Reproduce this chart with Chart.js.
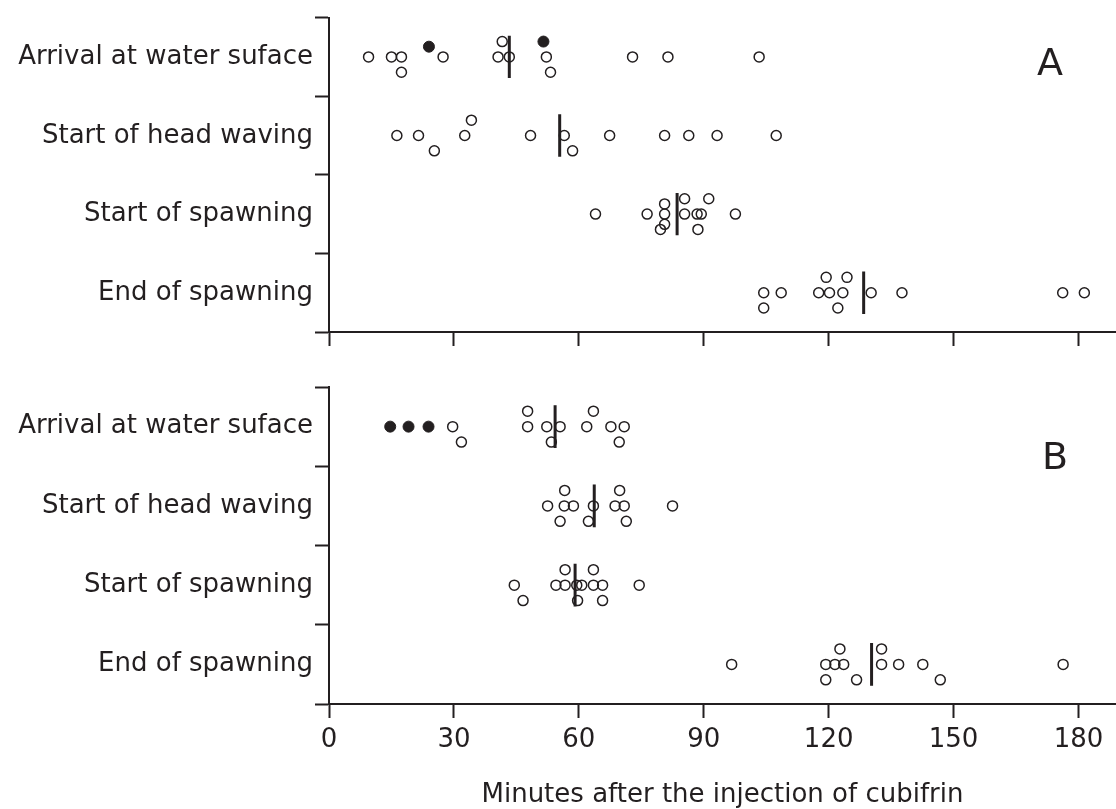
<!DOCTYPE html>
<html>
<head>
<meta charset="utf-8">
<script src="https://cdn.jsdelivr.net/npm/chart.js"></script>
<style>
    body { margin: 0; background: #fff; width: 1116px; height: 809px; position: relative; overflow: hidden; }
    .panel { position: absolute; left: 0; }
    .tag { position: absolute; font-family: "DejaVu Sans"; font-size: 38px; line-height: 38px; color: #231f20; }
</style>
</head>
<body>
<canvas id="chartA" class="panel" width="1116" height="360" style="top:0"></canvas>
<canvas id="chartB" class="panel" width="1116" height="449" style="top:360px"></canvas>
<div class="tag" style="left:1037px;top:43px">A</div>
<div class="tag" style="left:1042px;top:437px">B</div>
<script>
const categories = ["Arrival at water suface", "Start of head waving", "Start of spawning", "End of spawning"];
const categoryLevels = [4, 3, 2, 1];
const xTicks = [0, 30, 60, 90, 120, 150, 180];
const yBounds = [0.5, 1.5, 2.5, 3.5, 4.5];

// [minutes, row] - row is the stacking level above (+) or below (-) the category line
const aArrival = [[9.5, 0], [15, 0], [17.4, 0], [27.4, 0], [40.6, 0], [43.3, 0], [52.2, 0], [72.9, 0], [81.4, 0], [103.3, 0], [41.6, 3], [17.4, -3], [53.2, -3]];
const aArrivalFilled = [[24, 2], [51.5, 3]];
const aHeadWaving = [[16.3, 0], [21.5, 0], [32.6, 0], [48.4, 0], [56.5, 0], [67.4, 0], [80.6, 0], [86.4, 0], [93.2, 0], [107.4, 0], [34.2, 3], [25.3, -3], [58.5, -3]];
const aSpawnStart = [[64, 0], [76.4, 0], [80.6, 0], [85.4, 0], [88.4, 0], [89.4, 0], [97.6, 0], [80.6, 2], [85.4, 3], [91.2, 3], [80.6, -2], [79.6, -3], [88.6, -3]];
const aSpawnEnd = [[104.4, 0], [108.6, 0], [117.6, 0], [120.2, 0], [123.4, 0], [130.2, 0], [137.6, 0], [176.2, 0], [181.4, 0], [119.4, 3], [124.4, 3], [104.4, -3], [122.2, -3]];
const aMedians = [43.3, 55.4, 83.6, 128.4];

const bArrival = [[29.7, 0], [31.8, -3], [47.7, 3], [63.5, 3], [47.7, 0], [52.3, 0], [55.5, 0], [61.9, 0], [67.7, 0], [70.9, 0], [53.4, -3], [69.7, -3]];
const bArrivalFilled = [[14.7, 0], [19.1, 0], [23.9, 0]];
const bHeadWaving = [[56.6, 3], [69.8, 3], [52.5, 0], [56.5, 0], [58.7, 0], [63.5, 0], [68.7, 0], [70.9, 0], [82.5, 0], [55.5, -3], [62.3, -3], [71.4, -3]];
const bSpawnStart = [[56.7, 3], [63.5, 3], [44.5, 0], [54.5, 0], [56.7, 0], [59.5, 0], [60.7, 0], [63.5, 0], [65.7, 0], [74.5, 0], [46.6, -3], [59.7, -3], [65.7, -3]];
const bSpawnEnd = [[122.7, 3], [132.7, 3], [96.7, 0], [119.3, 0], [121.5, 0], [123.6, 0], [132.7, 0], [136.8, 0], [142.6, 0], [176.3, 0], [119.3, -3], [126.7, -3], [146.8, -3]];
const bMedians = [54.3, 63.7, 59.1, 130.3];

const ink = "#231f20";
const rowStep = 0.065;
const medianHalf = 0.27;
const labelFont = { family: "DejaVu Sans", size: 26, lineHeight: 1.2 };

function toPoints(groups) {
    let pts = [];
    groups.forEach((pairs, i) => {
        pairs.forEach(([m, r]) => pts.push({ x: m, y: categoryLevels[i] + r * rowStep }));
    });
    return pts;
}

function makeChart(canvasId, openGroups, filledGroups, medians, bottom) {
    let datasets = [
        {
            data: toPoints(openGroups),
            pointRadius: 5,
            pointBorderWidth: 1.5,
            pointBorderColor: ink,
            pointBackgroundColor: "rgba(0,0,0,0)",
        },
        {
            data: toPoints(filledGroups),
            pointRadius: 5.5,
            pointBorderWidth: 1,
            pointBorderColor: ink,
            pointBackgroundColor: ink,
        },
    ];
    medians.forEach((m, i) => {
        datasets.push({
            data: [
                { x: m, y: categoryLevels[i] - medianHalf },
                { x: m, y: categoryLevels[i] + medianHalf },
            ],
            showLine: true,
            borderColor: ink,
            borderWidth: 3,
            pointRadius: 0,
        });
    });

    return new Chart(document.getElementById(canvasId), {
        type: "scatter",
        data: { datasets: datasets },
        options: {
            responsive: false,
            animation: false,
            layout: { autoPadding: false, padding: { top: bottom ? 27 : 15, right: 0, bottom: 0, left: 0 } },
            plugins: { legend: { display: false }, tooltip: { enabled: false } },
            scales: {
                x: {
                    type: "linear",
                    min: 0,
                    max: 189,
                    afterBuildTicks: (s) => { s.ticks = xTicks.map((v) => ({ value: v })); },
                    afterFit: (s) => { s.height = bottom ? 105 : 28; },
                    ticks: { display: bottom, font: labelFont, color: ink, padding: 7, autoSkip: false, maxRotation: 0 },
                    grid: { drawOnChartArea: false, tickLength: 14, tickWidth: 2, tickColor: ink },
                    border: { color: ink, width: 2 },
                    title: {
                        display: bottom,
                        text: "Minutes after the injection of cubifrin",
                        font: { family: "DejaVu Sans", size: 26, lineHeight: 1 },
                        color: ink,
                        padding: { top: 0, bottom: 1 },
                    },
                },
                y: {
                    type: "linear",
                    min: 0.5,
                    max: 4.5,
                    afterBuildTicks: (s) => { s.ticks = yBounds.map((v) => ({ value: v })); },
                    afterFit: (s) => { s.width = 329; },
                    ticks: {
                        font: labelFont,
                        color: ink,
                        padding: 2,
                        autoSkip: false,
                        labelOffset: 39.6,
                        callback: (v) => categories[Math.round(4.5 - v)] || "",
                    },
                    grid: { drawOnChartArea: false, tickLength: 14, tickWidth: 2, tickColor: ink },
                    border: { color: ink, width: 2 },
                },
            },
        },
    });
}

makeChart("chartA", [aArrival, aHeadWaving, aSpawnStart, aSpawnEnd], [aArrivalFilled, [], [], []], aMedians, false);
makeChart("chartB", [bArrival, bHeadWaving, bSpawnStart, bSpawnEnd], [bArrivalFilled, [], [], []], bMedians, true);
</script>
</body>
</html>
